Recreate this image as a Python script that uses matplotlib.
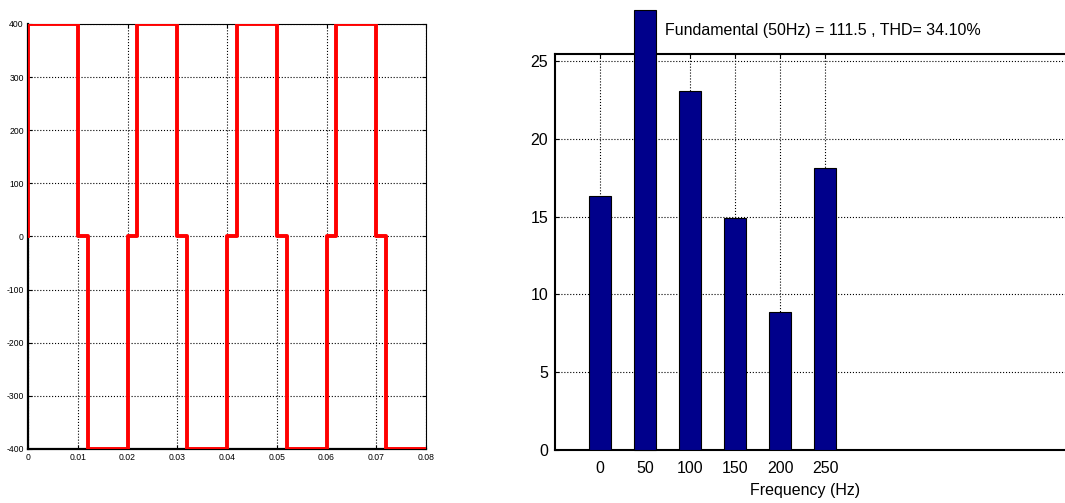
import numpy as np
import matplotlib
matplotlib.use("Agg")
import matplotlib.pyplot as plt

plt.rcParams["axes.unicode_minus"] = False
FONT = ["Liberation Sans", "DejaVu Sans"]
RED = "#FF0000"; NAVY = "#00008B"; INK = "#000000"

# inverter output voltage: switching instants and level held after each one
t_edges = [0.0, 0.01, 0.012, 0.02, 0.022, 0.03, 0.032, 0.04, 0.042,
           0.05, 0.052, 0.06, 0.062, 0.07, 0.072, 0.08]
levels = [400, 0, -400, 0, 400, 0, -400, 0, 400, 0, -400, 0, 400, 0, -400]
v_start = 0

# FFT spectrum (% of fundamental, 50 Hz bar clipped in the original)
freqs = [0, 50, 100, 150, 200, 250]
mags = [16.3, 28.3, 23.1, 14.9, 8.9, 18.1]
fft_title = "Fundamental (50Hz) = 111.5 , THD= 34.10%"

fig = plt.figure(figsize=(10.65, 5.03), dpi=100)

# ---- left: time waveform ----
ax1 = fig.add_axes([28/1065, 1-449/503, 398/1065, 425/503])
x = [t_edges[0]] + t_edges
y = [v_start] + levels + [levels[-1]]
ax1.step(x, y, where="post", color=RED, lw=2.8, zorder=3)
ax1.set_xlim(0, 0.08); ax1.set_ylim(-400, 400)
ax1.set_xticks(np.arange(0, 0.081, 0.01)); ax1.set_yticks(np.arange(-400, 401, 100))
ax1.set_xticklabels(["0", "0.01", "0.02", "0.03", "0.04", "0.05", "0.06", "0.07", "0.08"])
ax1.grid(True, color=INK, ls=":", lw=0.8)
ax1.tick_params(direction="in", top=True, right=True, length=3, labelsize=6.2, pad=3)
for lab in ax1.get_xticklabels() + ax1.get_yticklabels():
    lab.set_family(FONT)
for s in ["left", "bottom"]:
    ax1.spines[s].set_linewidth(1.6)
for s in ["top", "right"]:
    ax1.spines[s].set_linewidth(0.8)

# ---- right: harmonic spectrum ----
ax2 = fig.add_axes([555/1065, 1-450/503, 515/1065, 396/503])
bars = ax2.bar(freqs, mags, width=25, color=NAVY, edgecolor=INK, lw=0.8, zorder=3)
bars[1].set_clip_on(False)
ax2.set_xlim(-50, 522); ax2.set_ylim(0, 25.45)
ax2.set_xticks(freqs); ax2.set_yticks(np.arange(0, 26, 5))
ax2.set_axisbelow(True)
ax2.grid(True, color=INK, ls=":", lw=0.8)
ax2.tick_params(direction="in", top=True, right=False, length=3, labelsize=11.5, pad=5)
ax2.tick_params(axis="x", pad=8)
for lab in ax2.get_xticklabels() + ax2.get_yticklabels():
    lab.set_family(FONT)
ax2.set_xlabel("Frequency (Hz)", fontsize=11.5, family=FONT)
ax2.xaxis.set_label_coords((805-555)/515, -(490-450)/396, transform=ax2.transAxes)
ax2.xaxis.label.set_va("center")
ax2.spines["right"].set_visible(False)
for s in ["left", "bottom", "top"]:
    ax2.spines[s].set_linewidth(1.5)
fig.text(665/1065, 1-31/503, fft_title, ha="left", va="center", fontsize=11.5, family=FONT)

fig.savefig("out.png", dpi=100, facecolor="white")
